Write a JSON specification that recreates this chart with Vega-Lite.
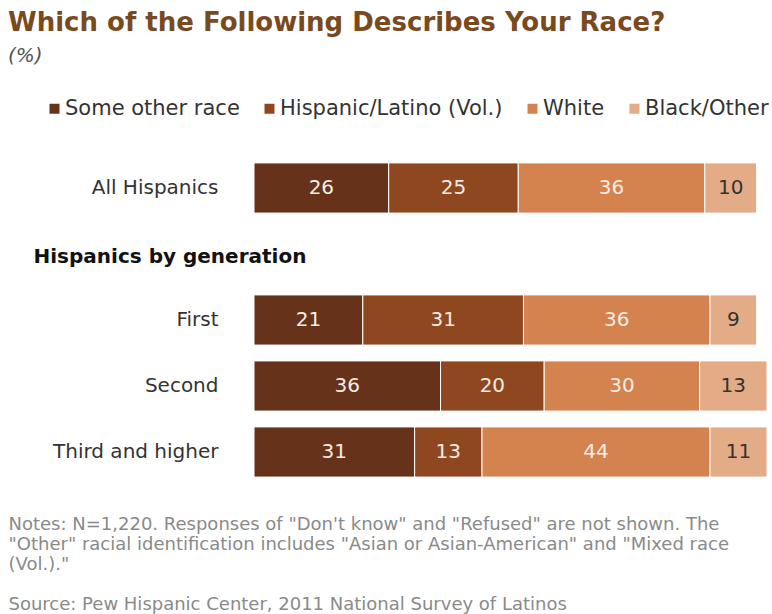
{
  "$schema": "https://vega.github.io/schema/vega-lite/v6.json",
  "width": 513,
  "height": 330,
  "autosize": "none",
  "padding": {"left": 254, "top": 155, "right": 5, "bottom": 129},
  "background": "white",
  "config": {"view": {"stroke": null}, "font": "DejaVu Sans"},
  "title": {
    "text": "Which of the Following Describes Your Race?",
    "subtitle": "(%)",
    "anchor": "start",
    "frame": "group",
    "dx": -246,
    "font": "DejaVu Sans",
    "fontSize": 26,
    "fontWeight": "bold",
    "color": "#7a4a1f",
    "subtitleFont": "DejaVu Sans",
    "subtitleFontSize": 20,
    "subtitleFontStyle": "italic",
    "subtitleColor": "#555555",
    "subtitlePadding": 10,
    "offset": 32
  },
  "data": {
    "values": [
      {"group": "All Hispanics", "race": "Some other race", "pct": 26},
      {"group": "All Hispanics", "race": "Hispanic/Latino (Vol.)", "pct": 25},
      {"group": "All Hispanics", "race": "White", "pct": 36},
      {"group": "All Hispanics", "race": "Black/Other", "pct": 10},
      {"group": "First", "race": "Some other race", "pct": 21},
      {"group": "First", "race": "Hispanic/Latino (Vol.)", "pct": 31},
      {"group": "First", "race": "White", "pct": 36},
      {"group": "First", "race": "Black/Other", "pct": 9},
      {"group": "Second", "race": "Some other race", "pct": 36},
      {"group": "Second", "race": "Hispanic/Latino (Vol.)", "pct": 20},
      {"group": "Second", "race": "White", "pct": 30},
      {"group": "Second", "race": "Black/Other", "pct": 13},
      {"group": "Third and higher", "race": "Some other race", "pct": 31},
      {"group": "Third and higher", "race": "Hispanic/Latino (Vol.)", "pct": 13},
      {"group": "Third and higher", "race": "White", "pct": 44},
      {"group": "Third and higher", "race": "Black/Other", "pct": 11}
    ]
  },
  "transform": [
    {"calculate": "indexof(['Some other race','Hispanic/Latino (Vol.)','White','Black/Other'], datum.race)", "as": "ord"},
    {"stack": "pct", "groupby": ["group"], "sort": [{"field": "ord", "order": "ascending"}], "as": ["x0", "x1"]},
    {"calculate": "(datum.x0 + datum.x1) / 2", "as": "mid"}
  ],
  "encoding": {
    "y": {
      "field": "group",
      "type": "nominal",
      "scale": {
        "domain": ["All Hispanics", "Hispanics by generation", "First", "Second", "Third and higher"],
        "paddingInner": 0.24,
        "paddingOuter": 0.12
      },
      "axis": {
        "title": null,
        "domain": false,
        "ticks": false,
        "labelFont": "DejaVu Sans",
        "labelFontSize": 20,
        "labelColor": {"condition": {"test": "datum.value == 'Hispanics by generation'", "value": "#111111"}, "value": "#333333"},
        "labelFontWeight": {"condition": {"test": "datum.value == 'Hispanics by generation'", "value": "bold"}, "value": "normal"},
        "labelAlign": {"condition": {"test": "datum.value == 'Hispanics by generation'", "value": "left"}, "value": "right"},
        "labelPadding": {"condition": {"test": "datum.value == 'Hispanics by generation'", "value": 221}, "value": 36},
        "labelOffset": {"condition": {"test": "datum.value == 'Hispanics by generation'", "value": 3}, "value": 0},
        "labelLimit": 320
      }
    }
  },
  "layer": [
    {
      "mark": {"type": "bar", "stroke": "white", "strokeWidth": 1, "clip": true},
      "encoding": {
        "x": {
          "field": "x0",
          "type": "quantitative",
          "scale": {"domain": [0, 99], "nice": false},
          "axis": {
            "labels": false,
            "ticks": false,
            "domain": false,
            "grid": false,
            "title": [
              "Notes: N=1,220. Responses of \"Don't know\" and \"Refused\" are not shown. The",
              "\"Other\" racial identification includes \"Asian or Asian-American\" and \"Mixed race",
              "(Vol.).\"",
              "\u2800",
              "Source: Pew Hispanic Center, 2011 National Survey of Latinos"
            ],
            "titleFont": "DejaVu Sans",
            "titleFontSize": 18,
            "titleFontWeight": "normal",
            "titleColor": "#8a8a8a",
            "titleAlign": "left",
            "titleAnchor": "start",
            "titleBaseline": "top",
            "titleLineHeight": 20,
            "titleX": -246,
            "titleY": 30
          }
        },
        "x2": {"field": "x1"},
        "color": {
          "field": "race",
          "type": "nominal",
          "scale": {
            "domain": ["Some other race", "Hispanic/Latino (Vol.)", "White", "Black/Other"],
            "range": ["#67321a", "#8f4720", "#d4834f", "#e3ab86"]
          },
          "legend": {
            "title": null,
            "orient": "none",
            "legendX": -210,
            "legendY": -57,
            "direction": "horizontal",
            "symbolType": "square",
            "symbolSize": 100,
            "symbolStrokeWidth": 0,
            "labelFont": "DejaVu Sans",
            "labelFontSize": 21,
            "labelColor": "#333333",
            "columnPadding": 19,
            "labelOffset": 0,
            "labelLimit": 320
          }
        }
      }
    },
    {
      "mark": {"type": "text", "font": "DejaVu Sans", "fontSize": 20, "baseline": "middle"},
      "encoding": {
        "x": {"field": "mid", "type": "quantitative"},
        "text": {"field": "pct", "type": "quantitative"},
        "color": {
          "condition": {"test": "datum.race == 'Black/Other'", "value": "#333333"},
          "value": "#f5ece4"
        }
      }
    }
  ]
}
